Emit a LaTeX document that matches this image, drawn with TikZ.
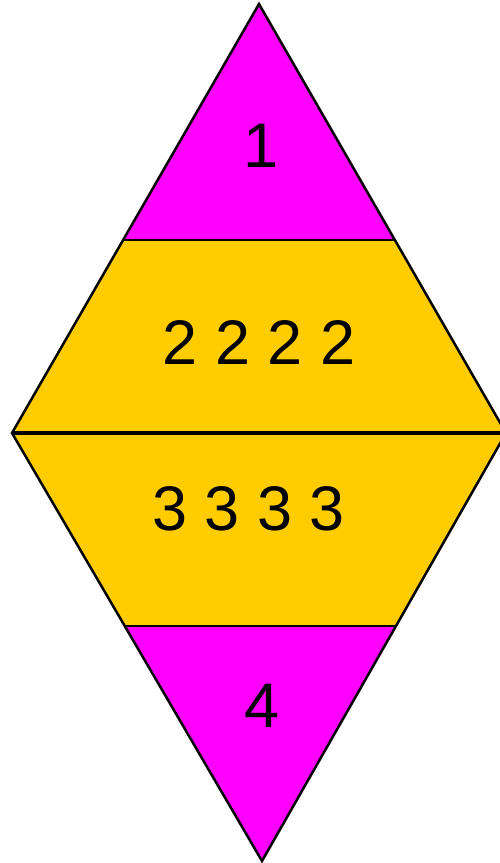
\documentclass[tikz,border=0pt]{standalone}
\usepackage{fontspec}
\setmainfont{Liberation Sans}
\definecolor{mag}{HTML}{FF00FF}
\definecolor{gold}{HTML}{FFCC00}
\begin{document}
\begin{tikzpicture}[x=1pt,y=-1pt,
  edge/.style={draw=black,line width=2.5pt,line join=miter},
  digit/.style={inner sep=0pt,font=\fontsize{63}{63}\selectfont}]
\useasboundingbox (0,0) rectangle (500,863);
\begin{scope}
\clip (0,0) rectangle (500,863);
\coordinate (T) at (259,4);
\coordinate (L) at (12,433);
\coordinate (R) at (506,433);
\coordinate (B) at (262,861);
\begin{scope}
\clip (T) -- (R) -- (B) -- (L) -- cycle;
\fill[mag] (0,0) rectangle (520,240);
\fill[gold] (0,240) rectangle (520,626);
\fill[mag] (0,626) rectangle (520,870);
\draw[line width=2.5pt] (0,240) -- (520,240);
\draw[line width=2.5pt] (0,626) -- (520,626);
\draw[line width=3.2pt] (0,433) -- (520,433);
\end{scope}
\draw[edge] (T) -- (R) -- (B) -- (L) -- cycle;
\end{scope}
\node[digit] (n1) at (261.5,145.5) {1};
\node[digit] (n2) at (259,342.5) {2 2 2 2};
\node[digit] (n3) at (248.5,509) {3 3 3 3};
\node[digit] (n4) at (262,705.5) {4};
\end{tikzpicture}
\end{document}
